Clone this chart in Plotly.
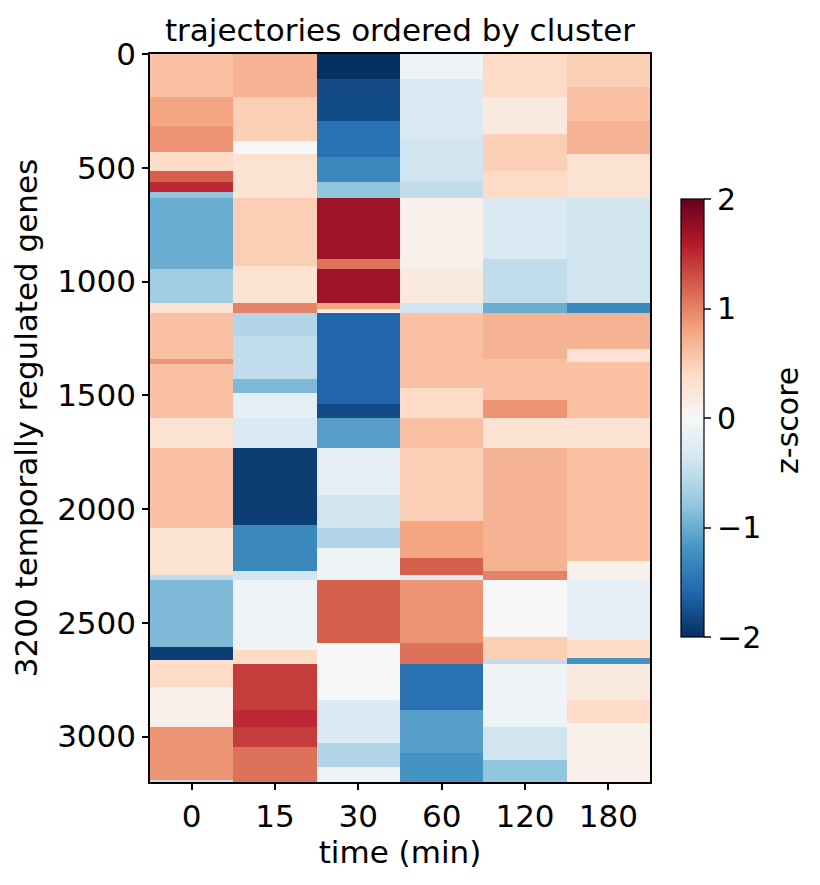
import numpy as np
import plotly.graph_objects as go

time_labels = ["0", "15", "30", "60", "120", "180"]
n_genes = 3200

# per time point: end row (exclusive) of each run of genes and its z-score
t0_ends = [190, 315, 432, 513, 564, 608, 633, 946, 1093, 1140, 1342, 1364, 1600, 1732,
           2083, 2289, 2310, 2605, 2664, 2681, 2781, 2957, 3190, 3200]
t0_vals = [0.6, 0.8, 0.9, 0.4, 1.2, 1.5, -0.8, -1.0, -0.7, 0.3, 0.6, 0.9, 0.6, 0.3,
           0.6, 0.3, -0.5, -0.9, -1.9, 0.3, 0.4, 0.1, 0.9, -0.5]

t15_ends = [190, 381, 440, 633, 932, 1093, 1140, 1240, 1430, 1489, 1600, 1732,
            2069, 2274, 2310, 2620, 2681, 2883, 2957, 3044, 3200]
t15_vals = [0.7, 0.5, 0.0, 0.3, 0.5, 0.3, 1.0, -0.6, -0.5, -0.9, -0.2, -0.3,
            -1.9, -1.3, -0.4, -0.1, 0.4, 1.4, 1.5, 1.4, 1.1]

t30_ends = [110, 293, 454, 564, 633, 903, 946, 1093, 1122, 1140, 1540, 1600, 1732,
            1937, 2083, 2171, 2310, 2590, 2681, 2840, 3030, 3133, 3200]
t30_vals = [-2.0, -1.8, -1.5, -1.3, -0.8, 1.7, 1.1, 1.7, 0.8, 0.1, -1.6, -1.8, -1.1,
            -0.2, -0.4, -0.6, -0.1, 1.2, 0.0, 0.0, -0.3, -0.6, -0.1]

t60_ends = [110, 366, 557, 633, 946, 1093, 1140, 1470, 1600, 1732,
            2054, 2215, 2289, 2310, 2590, 2681, 2883, 3074, 3200]
t60_vals = [-0.1, -0.3, -0.4, -0.5, 0.1, 0.2, -0.4, 0.6, 0.4, 0.6,
            0.5, 0.8, 1.2, -0.3, 0.9, 1.1, -1.5, -1.1, -1.2]

t120_ends = [190, 352, 513, 633, 903, 1093, 1140, 1342, 1520, 1600, 1732,
             2274, 2310, 2561, 2664, 2681, 2957, 3103, 3200]
t120_vals = [0.4, 0.2, 0.5, 0.4, -0.3, -0.5, -1.0, 0.7, 0.6, 0.9, 0.3,
             0.7, 1.0, 0.0, 0.5, -0.5, -0.1, -0.4, -0.8]

t180_ends = [146, 293, 440, 633, 1093, 1140, 1298, 1356, 1600, 1732,
             2230, 2310, 2576, 2656, 2681, 2840, 2942, 3200]
t180_vals = [0.5, 0.6, 0.7, 0.3, -0.4, -1.3, 0.7, 0.3, 0.6, 0.3,
             0.6, 0.1, -0.2, 0.4, -1.2, 0.2, 0.4, 0.1]


def column(ends, vals):
    return np.repeat(vals, np.diff([0] + ends))


z = np.column_stack([
    column(t0_ends, t0_vals),
    column(t15_ends, t15_vals),
    column(t30_ends, t30_vals),
    column(t60_ends, t60_vals),
    column(t120_ends, t120_vals),
    column(t180_ends, t180_vals),
])

rdbu = ["#67001f", "#b2182b", "#d6604d", "#f4a582", "#fddbc7", "#f7f7f7",
        "#d1e5f0", "#92c5de", "#4393c3", "#2166ac", "#053061"]
rdbu_r = [[i / 10, c] for i, c in enumerate(rdbu[::-1])]

# page body has an 8px margin, so the margins below are 8px short on left/top
fig = go.Figure(go.Heatmap(
    z=z, x=time_labels, y=np.arange(n_genes),
    colorscale=rdbu_r, zmin=-2, zmax=2,
    colorbar=dict(
        x=1.062, xanchor="left", xpad=0, y=0.5, yanchor="middle", ypad=0,
        len=0.601, thickness=23, outlinewidth=1.2, outlinecolor="black",
        tickvals=[-2, -1, 0, 1, 2], ticks="outside", ticklen=7, tickwidth=1.5,
        tickfont=dict(size=30),
    ),
))

fig.add_annotation(text="z-score", textangle=-90, showarrow=False,
                   xref="paper", yref="paper", x=1.276, y=0.496,
                   xanchor="center", yanchor="middle", font=dict(size=30))

fig.update_layout(
    width=820, height=885,
    margin=dict(l=142, r=178, t=46, b=111),
    paper_bgcolor="white", plot_bgcolor="white",
    font=dict(family="DejaVu Sans", size=26, color="black"),
    title=dict(text="trajectories ordered by cluster", x=0.5, xref="paper",
               y=1 - 22 / 885, yanchor="middle", font=dict(size=31)),
    xaxis=dict(title=dict(text="time (min)", standoff=6), range=[-0.5, 5.5],
               showline=True, mirror=True, linecolor="black", linewidth=1.5,
               ticks="outside", ticklen=6, tickwidth=1.5, tickcolor="black",
               tickfont=dict(size=31)),
    yaxis=dict(title=dict(text="3200 temporally regulated genes", standoff=16),
               range=[n_genes - 0.5, -0.5], tickvals=list(range(0, 3001, 500)),
               showline=True, mirror=True, linecolor="black", linewidth=1.5,
               ticks="outside", ticklen=6, tickwidth=1.5, tickcolor="black",
               tickfont=dict(size=31)),
)

fig.write_html("out.html")
